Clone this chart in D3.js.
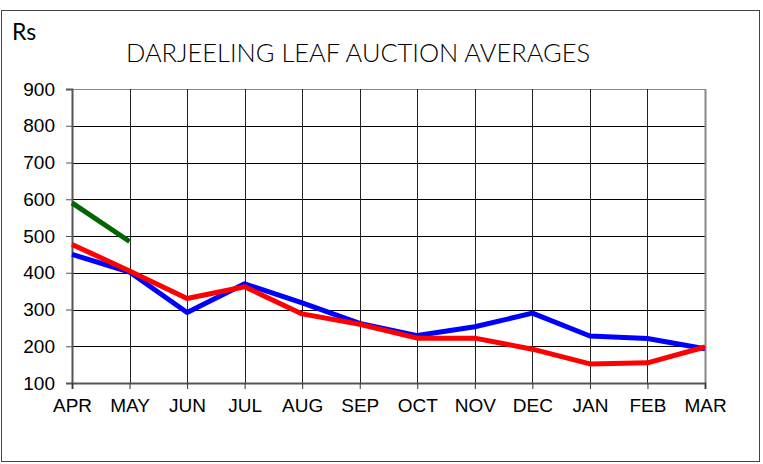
<!DOCTYPE html>
<html>
<head>
<meta charset="utf-8">
<script src="https://cdn.jsdelivr.net/npm/d3@7"></script>
<style>
  body { margin: 0; background: #fff; }
  text { font-family: "Liberation Sans", Arial, sans-serif; fill: #000; }
</style>
</head>
<body>
<div id="chart"></div>
<script>
// Chart data
let months = ["APR", "MAY", "JUN", "JUL", "AUG", "SEP", "OCT", "NOV", "DEC", "JAN", "FEB", "MAR"];
let yTicks = [100, 200, 300, 400, 500, 600, 700, 800, 900];
let blueSeries = [450, 402, 292, 370, 318, 262, 229, 253, 290, 228, 221, 193];
let redSeries = [477, 405, 330, 362, 288, 260, 222, 222, 192, 152, 155, 198];
let greenSeries = [590, 485];

let width = 763, height = 464;
let margin = {top: 89, left: 72, right: 58, bottom: 81};

let svg = d3.select("#chart")
    .append("svg")
    .attr("width", width)
    .attr("height", height);

// outer frame
svg.append("rect")
    .attr("x", 1.5)
    .attr("y", 10.5)
    .attr("width", 758)
    .attr("height", 451)
    .attr("fill", "none")
    .attr("stroke", "#444")
    .attr("stroke-width", 1);

let xScale = d3.scalePoint()
    .domain(months)
    .range([margin.left, width - margin.right]);

let yScale = d3.scaleLinear()
    .domain([100, 900])
    .range([height - margin.bottom, margin.top]);

// horizontal grid
svg.append("g")
    .selectAll("line")
    .data(yTicks.slice(1))
    .enter().append("line")
    .attr("x1", margin.left)
    .attr("x2", width - margin.right)
    .attr("y1", d => Math.round(yScale(d)) + 0.5)
    .attr("y2", d => Math.round(yScale(d)) + 0.5)
    .attr("stroke", d => d === 900 ? "#888" : "#000")
    .attr("stroke-width", 1);

// vertical grid
svg.append("g")
    .selectAll("line")
    .data(months.slice(1))
    .enter().append("line")
    .attr("x1", d => Math.round(xScale(d)) + 0.5)
    .attr("x2", d => Math.round(xScale(d)) + 0.5)
    .attr("y1", yScale(900))
    .attr("y2", yScale(100))
    .attr("stroke", d => d === "MAR" ? "#888" : "#222")
    .attr("stroke-width", d => d === "MAR" ? 2 : 1);

// y axis
let yAxis = svg.append("g")
    .attr("transform", "translate(" + margin.left + ",0)")
    .call(d3.axisLeft(yScale).tickValues(yTicks).tickSize(6).tickPadding(11));
yAxis.select(".domain").attr("stroke", "#555").attr("stroke-width", 2);
yAxis.selectAll(".tick line").attr("stroke", "#555");
yAxis.selectAll("text")
    .style("font-family", "'Liberation Sans', Arial, sans-serif")
    .style("font-size", "19px")
    .attr("fill", "#000");

// x axis
let xAxis = svg.append("g")
    .attr("transform", "translate(0," + (height - margin.bottom) + ")")
    .call(d3.axisBottom(xScale).tickSize(6).tickPadding(10));
xAxis.select(".domain").attr("stroke", "#555").attr("stroke-width", 2);
xAxis.selectAll(".tick line").attr("stroke", "#333");
xAxis.selectAll("text")
    .style("font-family", "'Liberation Sans', Arial, sans-serif")
    .style("font-size", "19px")
    .attr("fill", "#000");

let line = d3.line()
    .x((d, i) => xScale(months[i]))
    .y(d => yScale(d));

function drawSeries(values, color) {
    svg.append("path")
        .datum(values)
        .attr("d", line)
        .attr("fill", "none")
        .attr("stroke", color)
        .attr("stroke-width", 5)
        .attr("stroke-linejoin", "round");
}

drawSeries(blueSeries, "#0000ff");
drawSeries(redSeries, "#ff0000");
drawSeries(greenSeries, "#006600");

// labels
svg.append("text")
    .attr("x", 12)
    .attr("y", 40)
    .style("font-family", "Lato, 'Open Sans', sans-serif")
    .style("font-size", "23px")
    .text("Rs");

svg.append("text")
    .attr("x", 126)
    .attr("y", 62)
    .attr("textLength", 464)
    .attr("lengthAdjust", "spacingAndGlyphs")
    .style("font-family", "Lato, 'Open Sans', sans-serif")
    .style("font-weight", 300)
    .style("font-size", "25px")
    .text("DARJEELING LEAF AUCTION AVERAGES");
</script>
</body>
</html>
